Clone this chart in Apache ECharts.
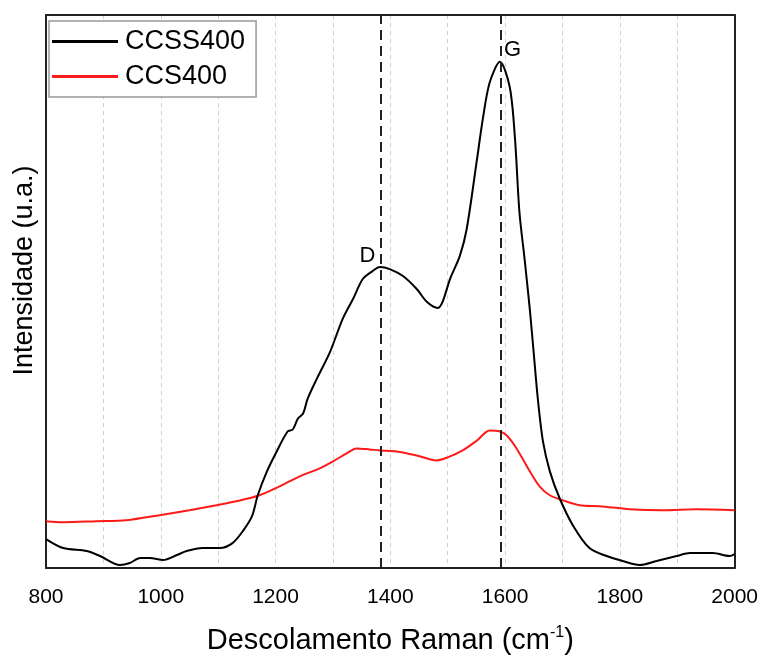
<!DOCTYPE html>
<html><head><meta charset="utf-8">
<script src="https://cdn.jsdelivr.net/npm/echarts@6/dist/echarts.min.js"></script>
<style>html,body{margin:0;padding:0;background:#fff}#c{width:761px;height:660px}</style>
</head><body><div id="c"></div>
<script>
// CCSS400 (black) Raman shift and intensity
const ccssX = [800,830,871,894,929,946,964,981,1004,1028,1045,1073,1103,1125,1143,1159,1169,1185,1202,1221,1230,1239,1248,1256,1272,1295,1317,1335,1352,1369,1382,1399,1422,1446,1464,1483,1491,1504,1521,1533,1551,1561,1573,1591,1608,1617,1625,1634,1643,1650,1657,1666,1678,1695,1718,1747,1777,1805,1834,1864,1899,1922,1962,1991,2000];
const ccssY = [29,20,17,12,3,5,10,10,8,13,17,20,20,25,37,52,73,97,117,137,139,150,155,170,190,217,250,270,290,298,302,300,293,280,267,261,267,290,313,340,410,450,487,508,483,433,357,310,260,215,170,127,97,70,43,20,12,7,3,7,12,15,15,12,14];
// CCS400 (red)
const ccsX = [800,830,888,940,998,1050,1097,1132,1172,1207,1242,1277,1300,1324,1341,1364,1382,1411,1446,1481,1500,1526,1551,1573,1591,1603,1620,1643,1660,1678,1700,1730,1765,1817,1875,1934,2000];
const ccsY = [47,46,47,48,53,58,63,67,73,82,92,100,107,115,120,119,118,117,113,108,111,118,128,138,137,133,120,97,82,73,68,63,62,59,58,59,58];
// Band positions
const bandNames = ['D','G'];
const bandX = [1383, 1592];
const bandPeakY = [302, 508];
const xTicks = [800,1000,1200,1400,1600,1800,2000];

const font = 'Liberation Sans, Arial, sans-serif';
const chart = echarts.init(document.getElementById('c'));
const zip = (a,b)=>a.map((v,i)=>[v,b[i]]);
const frame = {show:true,onZero:false,lineStyle:{color:'#222',width:2}};
chart.setOption({
  animation:false,
  grid:{left:46,right:26,top:15,bottom:90},
  legend:{
    left:49,top:21,orient:'vertical',
    data:['CCSS400','CCS400'],
    icon:'rect',
    borderColor:'#999',borderWidth:1.5,borderRadius:0,
    padding:[7,11,7,3],itemGap:8,itemWidth:66,itemHeight:3,
    textStyle:{fontFamily:font,fontSize:27,lineHeight:27,color:'#000',padding:[0,0,0,2]},
    backgroundColor:'#fff'
  },
  xAxis:[{
    type:'value',min:800,max:2000,interval:100,
    name:'Descolamento Raman (cm{sup|-1})',nameLocation:'middle',nameGap:57,
    nameTextStyle:{fontFamily:font,fontSize:29,color:'#000',
      rich:{sup:{fontFamily:font,fontSize:16,verticalAlign:'top',padding:[0,0,15,0],color:'#000'}}},
    axisLine:frame,
    axisTick:{show:false},
    axisLabel:{fontFamily:font,fontSize:21,color:'#000',margin:19,
      formatter:v=>xTicks.includes(v)?String(v):''},
    splitLine:{show:true,lineStyle:{color:'#d0d0d0',type:[4,4],width:1}}
  },{
    type:'value',min:800,max:2000,position:'top',
    axisLine:frame,axisTick:{show:false},axisLabel:{show:false},splitLine:{show:false}
  }],
  yAxis:[{
    type:'value',min:0,max:555,
    name:'Intensidade (u.a.)',nameLocation:'middle',nameGap:8,
    nameTextStyle:{fontFamily:font,fontSize:27,color:'#000',padding:[0,0,0,42]},
    axisLine:frame,
    axisTick:{show:false},axisLabel:{show:false},splitLine:{show:false}
  },{
    type:'value',min:0,max:555,position:'right',
    axisLine:frame,axisTick:{show:false},axisLabel:{show:false},splitLine:{show:false}
  }],
  series:[
    {name:'CCSS400',type:'line',data:zip(ccssX,ccssY),smooth:0.3,showSymbol:false,symbol:'none',
     lineStyle:{color:'#000',width:2},itemStyle:{color:'#000'},z:3,
     markLine:{silent:true,symbol:'none',label:{show:false},
       lineStyle:{color:'#222',type:[10,6],width:2},
       data:bandX.map(x=>({xAxis:x}))},
     markPoint:{symbol:'circle',symbolSize:0,
       data:bandNames.map((n,i)=>({coord:[bandX[i],bandPeakY[i]],
         label:{show:true,formatter:n,fontFamily:font,fontSize:22,color:'#000',
           offset:i===0?[-13,-11]:[12,-12]}}))}
    },
    {name:'CCS400',type:'line',data:zip(ccsX,ccsY),smooth:0.3,showSymbol:false,symbol:'none',
     lineStyle:{color:'#ff1a1a',width:2},itemStyle:{color:'#ff1a1a'},z:2}
  ]
});
</script></body></html>
